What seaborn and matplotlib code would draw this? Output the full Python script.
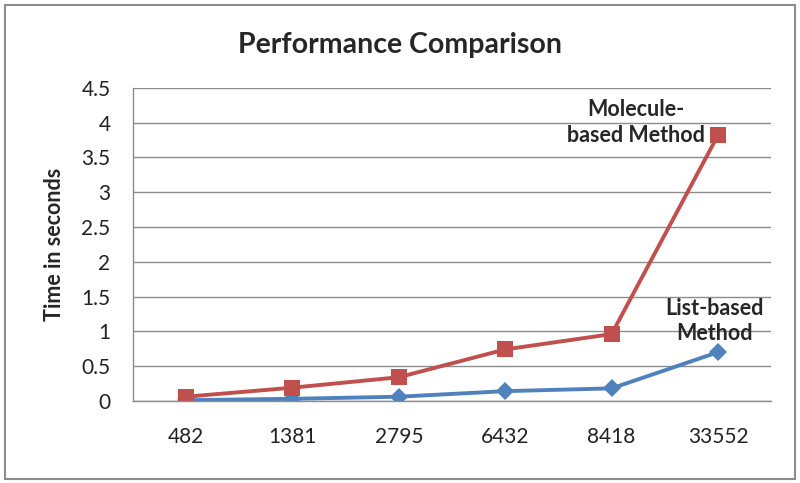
import matplotlib
matplotlib.use("Agg")
import matplotlib.pyplot as plt
import seaborn as sns
import pandas as pd

sizes = ["482", "1381", "2795", "6432", "8418", "33552"]
molecule_times = [0.06, 0.19, 0.34, 0.74, 0.96, 3.82]
list_times = [0.01, 0.03, 0.06, 0.14, 0.18, 0.70]

df = pd.DataFrame({
    "size": sizes * 2,
    "time": molecule_times + list_times,
    "method": ["Molecule"] * len(sizes) + ["List"] * len(sizes),
})

sns.set_style("white")
plt.rcParams["font.family"] = ["Lato", "DejaVu Sans"]

fig = plt.figure(figsize=(8, 4.83), dpi=100)
ax = fig.add_axes([0.166, 0.170, 0.798, 0.648])

palette = {"Molecule": "#C0504D", "List": "#4F81BD"}
markers = {"Molecule": "s", "List": "D"}
sizes_map = {"Molecule": 11, "List": 9}
for name in ["List", "Molecule"]:
    sub = df[df["method"] == name]
    sns.lineplot(data=sub, x="size", y="time", color=palette[name], marker=markers[name],
                 markersize=sizes_map[name], markeredgewidth=0, linewidth=2.8,
                 sort=False, ax=ax, legend=False)

ax.set_xlim(-0.5, 5.5)
ax.set_ylim(0, 4.5)
ax.set_yticks([0, 0.5, 1, 1.5, 2, 2.5, 3, 3.5, 4, 4.5])
ax.set_yticklabels(["0", "0.5", "1", "1.5", "2", "2.5", "3", "3.5", "4", "4.5"])
ax.yaxis.grid(True, color="#8c8c8c", linewidth=1)
ax.set_axisbelow(True)
for s in ["top", "right"]:
    ax.spines[s].set_visible(False)
for s in ["left", "bottom"]:
    ax.spines[s].set_color("#8c8c8c")
    ax.spines[s].set_linewidth(1)
ax.tick_params(axis="both", length=0, labelsize=15, colors="#222222")
ax.tick_params(axis="x", pad=19)
ax.tick_params(axis="y", pad=16)
ax.set_xlabel("")
ax.set_ylabel("Time in seconds", fontsize=15.5, fontweight="bold", labelpad=12)

fig.text(0.5, 0.907, "Performance Comparison", ha="center", va="center",
         fontsize=20.5, fontweight="bold")

ax.text(4.88, 4.0, "Molecule-\nbased Method", ha="right", va="center",
        fontsize=15.5, fontweight="bold", multialignment="center", linespacing=1.3)
ax.text(4.97, 1.15, "List-based\nMethod", ha="center", va="center",
        fontsize=15.5, fontweight="bold", multialignment="center", linespacing=1.2)

border = plt.Rectangle((0.006, 0.008), 0.988, 0.982, transform=fig.transFigure,
                       fill=False, edgecolor="#8c8c8c", linewidth=1.5)
fig.patches.append(border)

fig.savefig("out.png", dpi=100, facecolor="white")
